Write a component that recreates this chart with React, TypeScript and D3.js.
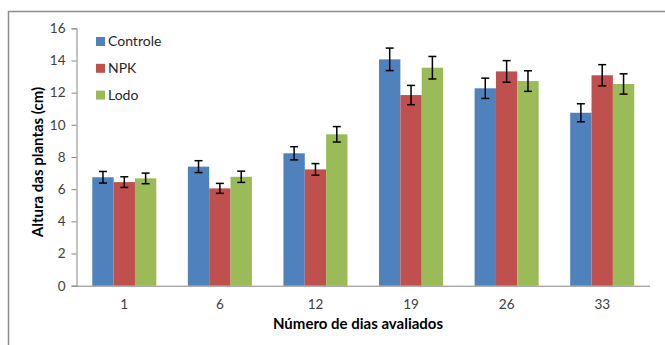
import React, { useEffect, useRef } from 'react';
import * as d3 from 'd3';

const days = ['1', '6', '12', '19', '26', '33'];
const seriesNames = ['Controle', 'NPK', 'Lodo'];
const seriesColors = ['#4F81BD', '#C0504D', '#9BBB59'];

const controle = [6.74, 7.4, 8.23, 14.07, 12.27, 10.75];
const npk = [6.44, 6.05, 7.23, 11.85, 13.32, 13.08];
const lodo = [6.67, 6.77, 9.41, 13.55, 12.72, 12.54];

const controleErr = [0.36, 0.37, 0.41, 0.7, 0.63, 0.56];
const npkErr = [0.33, 0.31, 0.36, 0.6, 0.67, 0.66];
const lodoErr = [0.33, 0.35, 0.48, 0.7, 0.64, 0.63];

const yTicks = [0, 2, 4, 6, 8, 10, 12, 14, 16];

const App = () => {
  const ref = useRef<SVGSVGElement>(null);

  useEffect(() => {
    const W = 665, H = 345;
    const font = 'Lato, "Open Sans", sans-serif';
    const svg = d3.select(ref.current);
    svg.selectAll('*').remove();

    // outer frame (only top and left visible)
    svg.append('path')
      .attr('d', `M8.5,${H} L8.5,11.5 L${W},11.5`)
      .attr('fill', 'none')
      .attr('stroke', '#8c8c8c')
      .attr('stroke-width', 1.5);

    const left = 76.5, right = 650, top = 28.3, bottom = 285.7;

    const x = d3.scaleBand().domain(days).range([left, right]).paddingInner(0.33).paddingOuter(0.165);
    const x1 = d3.scaleBand().domain(seriesNames).range([0, x.bandwidth()]);
    const y = d3.scaleLinear().domain([0, 16]).range([bottom, top]);

    const values = [controle, npk, lodo];
    const errs = [controleErr, npkErr, lodoErr];

    // bars
    seriesNames.forEach((s, si) => {
      const g = svg.append('g');
      g.selectAll('rect')
        .data(days)
        .enter()
        .append('rect')
        .attr('x', d => x(d)! + x1(s)!)
        .attr('y', (d, i) => y(values[si][i]))
        .attr('width', x1.bandwidth())
        .attr('height', (d, i) => bottom - y(values[si][i]))
        .attr('fill', seriesColors[si]);
    });

    // error bars
    seriesNames.forEach((s, si) => {
      days.forEach((d, i) => {
        const cx = x(d)! + x1(s)! + x1.bandwidth() / 2;
        const hi = y(values[si][i] + errs[si][i]);
        const lo = y(values[si][i] - errs[si][i]);
        const g = svg.append('g').attr('stroke', '#000').attr('stroke-width', 1.5);
        g.append('line').attr('x1', cx).attr('x2', cx).attr('y1', hi).attr('y2', lo);
        g.append('line').attr('x1', cx - 4).attr('x2', cx + 4).attr('y1', hi).attr('y2', hi);
        g.append('line').attr('x1', cx - 4).attr('x2', cx + 4).attr('y1', lo).attr('y2', lo);
      });
    });

    // y axis
    const yAxis = svg.append('g')
      .attr('transform', `translate(${left},0)`)
      .call(d3.axisLeft(y).tickValues(yTicks).tickSize(5).tickPadding(6));
    yAxis.select('.domain').attr('stroke', '#868686');
    yAxis.selectAll('.tick line').attr('stroke', '#868686');
    yAxis.selectAll('.tick text')
      .attr('font-family', font)
      .attr('font-size', 13.5)
      .attr('fill', '#404040');

    // x axis
    const xAxis = svg.append('g')
      .attr('transform', `translate(0,${bottom})`)
      .call(d3.axisBottom(x).tickSize(0).tickPadding(14).tickSizeOuter(0));
    xAxis.select('.domain').attr('stroke', '#868686').attr('d', `M${left},0.5H${right}`);
    xAxis.selectAll('.tick text')
      .attr('font-family', font)
      .attr('font-size', 13.5)
      .attr('fill', '#404040');

    // axis titles
    svg.append('text')
      .attr('transform', `translate(38,162) rotate(-90)`)
      .attr('text-anchor', 'middle')
      .attr('dy', '0.35em')
      .attr('font-family', font)
      .attr('font-weight', 'bold')
      .attr('font-size', 15)
      .attr('fill', '#000')
      .text('Altura das plantas (cm)');

    svg.append('text')
      .attr('x', 358)
      .attr('y', 329)
      .attr('text-anchor', 'middle')
      .attr('font-family', font)
      .attr('font-weight', 'bold')
      .attr('font-size', 15)
      .attr('fill', '#000')
      .text('Número de dias avaliados');

    // legend
    const legend = svg.append('g').attr('transform', 'translate(96,41.5)');
    seriesNames.forEach((s, i) => {
      const row = legend.append('g').attr('transform', `translate(0,${i * 26.8})`);
      row.append('rect').attr('x', 0).attr('y', -4.5).attr('width', 9).attr('height', 9).attr('fill', seriesColors[i]);
      row.append('text')
        .attr('x', 12)
        .attr('y', 0)
        .attr('dy', '0.35em')
        .attr('font-family', font)
        .attr('font-size', 14)
        .attr('fill', '#262626')
        .text(s);
    });
  }, []);

  return (
    <svg ref={ref} width={665} height={345}
      style={{ position: 'absolute', left: 0, top: 0, background: '#fff' }} />
  );
};

export default App;
